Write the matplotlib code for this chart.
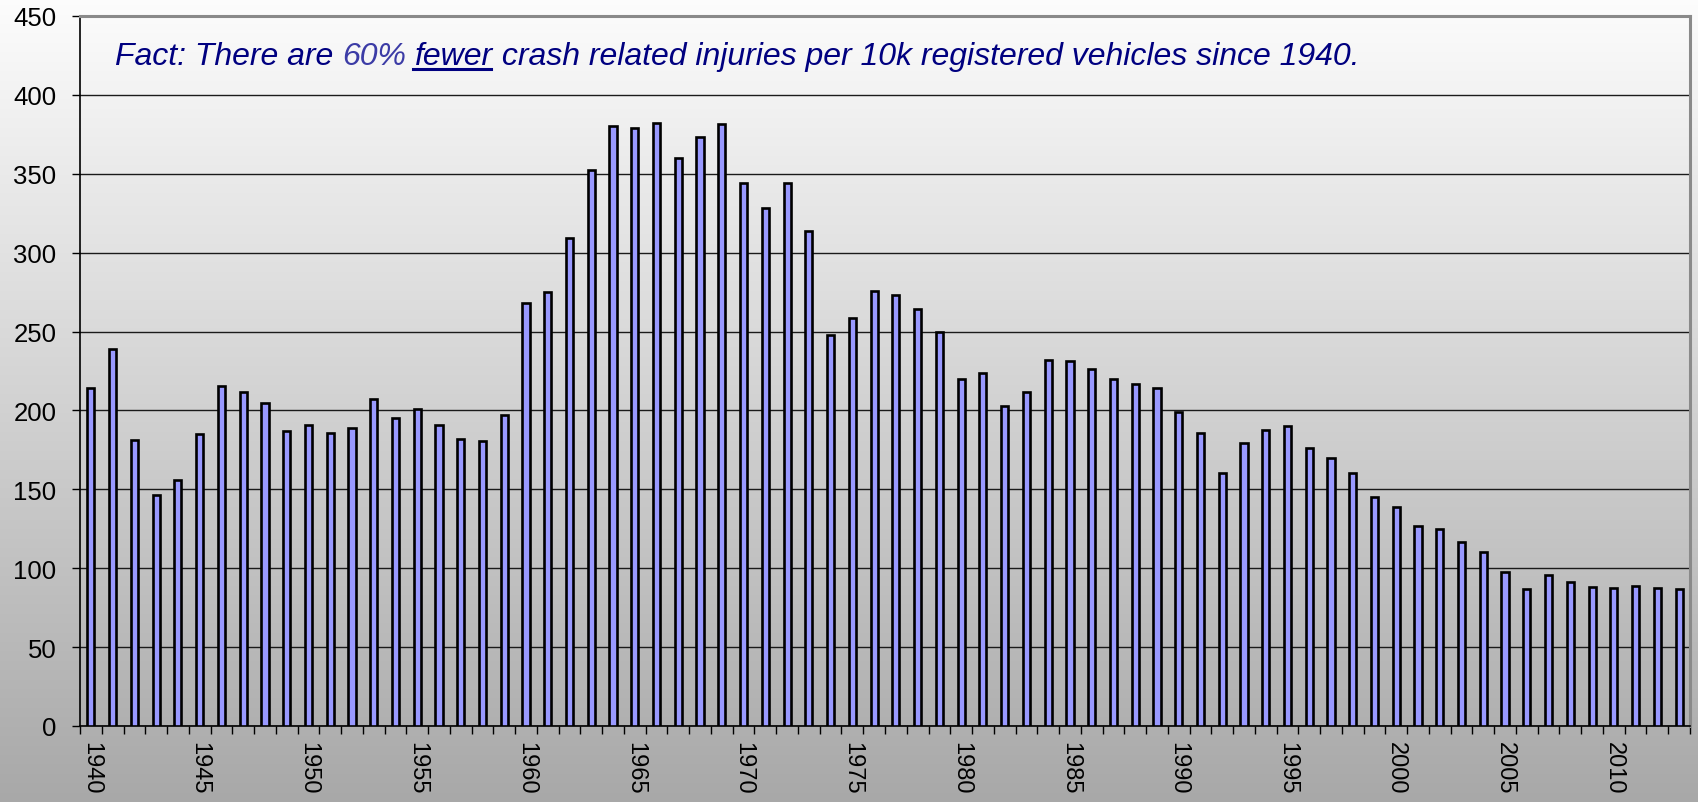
import matplotlib
matplotlib.use("Agg")
import matplotlib.pyplot as plt
from matplotlib.lines import Line2D
import numpy as np

plt.rcParams['font.family'] = ['Liberation Sans', 'DejaVu Sans']

# crash related injuries per 10k registered vehicles
years = list(range(1940, 2014))
injuries = [214, 239, 181, 146.5, 156, 185, 215.6, 212, 204.5, 187,
            190.5, 186, 189, 207, 195, 201, 191, 182, 180.5, 197,
            268, 275, 309, 352.5, 380.5, 379, 382, 360, 373, 381.5,
            344, 328.5, 344, 314, 248, 258.5, 276, 273, 264.5, 250,
            220, 224, 203, 212, 232, 231.5, 226, 220, 216.5, 214.5,
            199, 186, 160.5, 179.5, 187.5, 190, 176, 170, 160.5, 145,
            138.5, 126.5, 125, 116.5, 110, 97.5, 87, 96, 91, 88,
            87.5, 88.5, 87.5, 87]
label_years = [1940, 1945, 1950, 1955, 1960, 1965, 1970, 1975, 1980, 1985,
               1990, 1995, 2000, 2005, 2010]
y_ticks = list(range(0, 451, 50))

W, H = 1698, 803
fig = plt.figure(figsize=(W / 100, H / 100), dpi=100)

# grey gradient background behind everything
bg = fig.add_axes([0, 0, 1, 1], zorder=-1)
grad = np.linspace(0, 1, 256).reshape(-1, 1)
top_c = np.array([0.99, 0.99, 0.99])
bot_c = np.array([0.66, 0.66, 0.66])
img = top_c + (bot_c - top_c) * grad[:, :, None]
bg.imshow(img, aspect='auto', extent=[0, 1, 0, 1])
bg.axis('off')

ax = fig.add_axes([80 / W, 1 - 727 / H, 1610 / W, 710 / H])
ax.set_facecolor('none')

x = np.arange(len(years))
ax.bar(x, injuries, width=0.33, color='#9999ff', edgecolor='black',
       linewidth=1.9, zorder=3)

ax.set_xlim(-0.5, len(years) - 0.5)
ax.set_ylim(0, 450)
ax.set_yticks(y_ticks)
ax.tick_params(axis='y', labelsize=18.5, length=6, width=1, pad=11)
ax.yaxis.grid(True, color='#1a1a1a', linewidth=1.0, zorder=1)

ax.set_xticks([years.index(y) for y in label_years])
ax.set_xticklabels([str(y) for y in label_years], rotation=-90, fontsize=17)
ax.set_xticks(np.arange(-0.5, len(years), 1), minor=True)
ax.tick_params(axis='x', which='major', length=0, pad=11)
ax.tick_params(axis='x', which='minor', length=6, width=1)

for side in ['left', 'bottom']:
    ax.spines[side].set_color('black')
    ax.spines[side].set_linewidth(1.2)
for side in ['top', 'right']:
    ax.spines[side].set_color('#8a8a8a')
    ax.spines[side].set_linewidth(2.2)

# headline text with coloured "60%" and underlined "fewer"
navy = '#000080'
parts = [("Fact: There are ", navy), ("60%", '#3c3ca6'), (" ", navy),
         ("fewer", navy), (" crash related injuries per 10k registered vehicles since 1940.", navy)]
kw = dict(fontsize=23, fontstyle='italic', va='baseline', ha='left')
renderer = fig.canvas.get_renderer()


def text_w(s):
    t = fig.text(0, 0, s + "|", **kw)
    w1 = t.get_window_extent(renderer).width
    t.remove()
    t = fig.text(0, 0, "|", **kw)
    w2 = t.get_window_extent(renderer).width
    t.remove()
    return w1 - w2


x0, base = 115, 65
done = ""
for s, c in parts:
    xs = x0 + text_w(done)
    fig.text(xs / W, 1 - base / H, s, color=c, **kw)
    if s == "fewer":
        xe = xs + text_w(s)
        fig.add_artist(Line2D([(xs - 2) / W, (xe - 2) / W], [1 - (base + 5) / H] * 2,
                              color=navy, linewidth=2.2, transform=fig.transFigure))
    done += s

plt.savefig("out.png", dpi=100)
